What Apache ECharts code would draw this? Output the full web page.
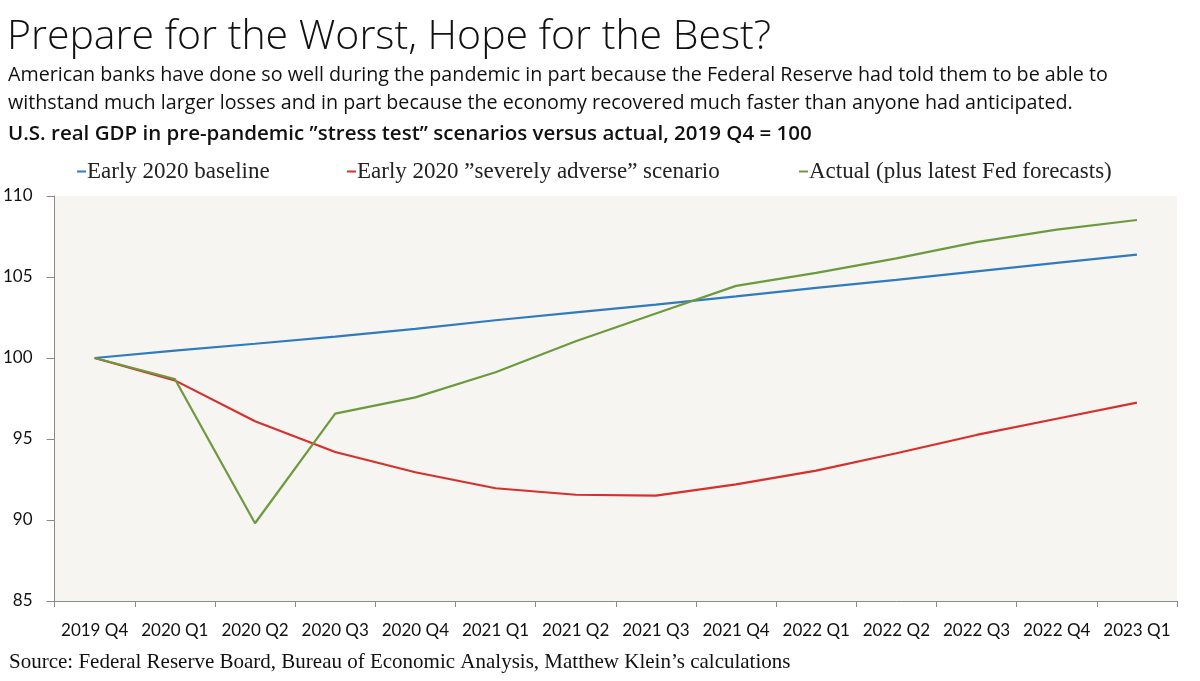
<!DOCTYPE html>
<html>
<head>
<meta charset="utf-8">
<script src="https://cdn.jsdelivr.net/npm/echarts@6/dist/echarts.min.js"></script>
<style>
html,body{margin:0;padding:0;background:#fff;}
#chart{width:1200px;height:681px;}
</style>
</head>
<body>
<div id="chart"></div>
<script>
const categories = ['2019 Q4','2020 Q1','2020 Q2','2020 Q3','2020 Q4','2021 Q1','2021 Q2','2021 Q3','2021 Q4','2022 Q1','2022 Q2','2022 Q3','2022 Q4','2023 Q1'];
const baseline = [100, 100.46, 100.88, 101.32, 101.8, 102.33, 102.82, 103.3, 103.8, 104.33, 104.82, 105.35, 105.87, 106.38];
const severelyAdverse = [100, 98.62, 96.1, 94.2, 92.95, 91.96, 91.56, 91.5, 92.2, 93.05, 94.12, 95.25, 96.25, 97.25];
const actual = [100, 98.7, 89.8, 96.57, 97.57, 99.12, 101.03, 102.75, 104.45, 105.25, 106.15, 107.15, 107.92, 108.52];
const yTicks = {min: 85, max: 110, interval: 5};
const seriesNames = ['Early 2020 baseline', 'Early 2020 \u201dseverely adverse\u201d scenario', 'Actual (plus latest Fed forecasts)'];

const chart = echarts.init(document.getElementById('chart'));
const sans = 'Open Sans';
const axisFont = 'Lato';
const serif = 'Liberation Serif';
const colors = ['#2f7bbd', '#d7302c', '#6b9a3f'];

function legendAt(i, left) {
  return {
    data: [seriesNames[i]], left: left, top: 155,
    icon: 'rect', itemWidth: 9, itemHeight: 2, itemGap: 0,
    textStyle: {fontFamily: serif, fontSize: 23, color: '#222', padding: [0,0,0,-4]},
    selectedMode: false
  };
}

chart.setOption({
  backgroundColor: '#ffffff',
  animation: false,
  color: colors,
  title: [
    {text: 'Prepare for the Worst, Hope for the Best?', left: 2, top: 12,
     textStyle: {fontFamily: sans, fontWeight: 300, fontSize: 41, color: '#111'}},
    {text: 'American banks have done so well during the pandemic in part because the Federal Reserve had told them to be able to\nwithstand much larger losses and in part because the economy recovered much faster than anyone had anticipated.',
     left: 3, top: 56,
     textStyle: {fontFamily: sans, fontWeight: 400, fontSize: 19.7, lineHeight: 28, color: '#111'}},
    {text: 'U.S. real GDP in pre-pandemic \u201dstress test\u201d scenarios versus actual, 2019 Q4 = 100',
     left: 3, top: 119,
     textStyle: {fontFamily: sans, fontWeight: 600, fontSize: 20.5, color: '#111'}},
    {text: 'Source: Federal Reserve Board, Bureau of Economic Analysis, Matthew Klein\u2019s calculations',
     left: 4, top: 647,
     textStyle: {fontFamily: serif, fontWeight: 400, fontSize: 21, color: '#111'}}
  ],
  legend: [legendAt(0, 72), legendAt(1, 342), legendAt(2, 794)],
  grid: {left: 50, right: 23, top: 196, bottom: 80, show: true, backgroundColor: '#f6f5f2', borderWidth: 0},
  xAxis: {
    type: 'category', data: categories, boundaryGap: true,
    axisLine: {lineStyle: {color: '#8a8a8a', width: 1}},
    axisTick: {show: true, alignWithLabel: false, length: 6, lineStyle: {color: '#8a8a8a'}},
    axisLabel: {fontFamily: axisFont, fontSize: 17, color: '#111', margin: 21, interval: 0}
  },
  yAxis: {
    type: 'value', min: yTicks.min, max: yTicks.max, interval: yTicks.interval,
    axisLine: {show: true, lineStyle: {color: '#8a8a8a', width: 1}},
    axisTick: {show: true, length: 8, lineStyle: {color: '#8a8a8a'}},
    splitLine: {show: false},
    axisLabel: {fontFamily: axisFont, fontSize: 17, color: '#111', margin: 22}
  },
  series: [
    {name: seriesNames[0], type: 'line', data: baseline, symbol: 'none', lineStyle: {width: 2.2}},
    {name: seriesNames[1], type: 'line', data: severelyAdverse, symbol: 'none', lineStyle: {width: 2.2}},
    {name: seriesNames[2], type: 'line', data: actual, symbol: 'none', lineStyle: {width: 2.2}}
  ]
});
</script>
</body>
</html>
